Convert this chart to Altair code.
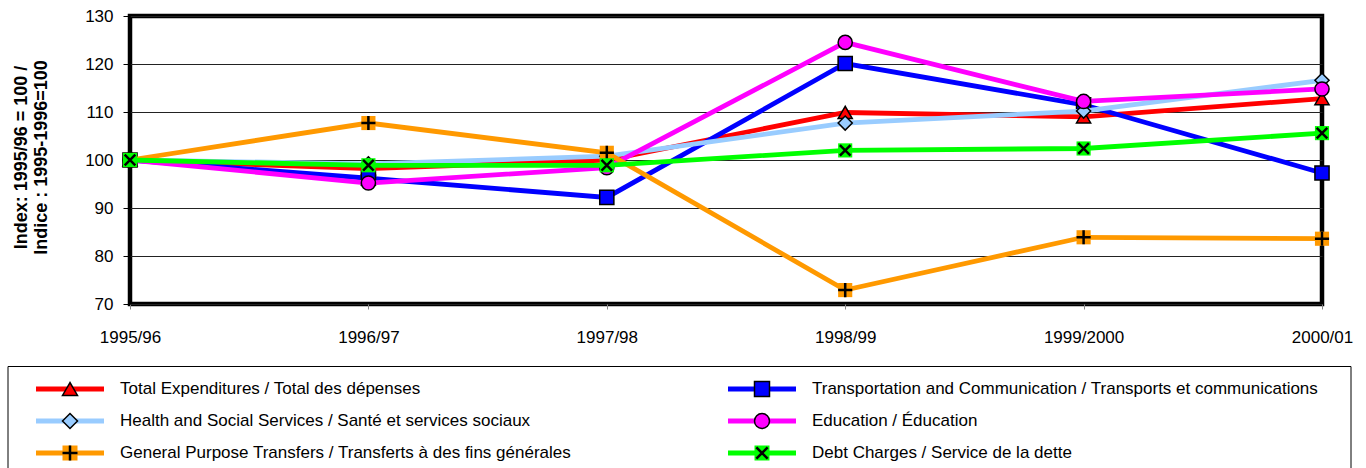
import altair as alt
import pandas as pd

# Fiscal years on the x axis
YEARS = ["1995/96", "1996/97", "1997/98", "1998/99", "1999/2000", "2000/01"]

# Series names (bilingual)
SERIES = [
    "Total Expenditures / Total des dépenses",
    "Transportation and Communication / Transports et communications",
    "Health and Social Services  / Santé et services sociaux",
    "Education / Éducation",
    "General Purpose Transfers / Transferts à des fins générales",
    "Debt Charges / Service de la dette",
]

# Index values, 1995/96 = 100
TOTAL = [100.0, 98.2, 100.0, 109.9, 109.0, 112.8]
TRANSPORT = [100.0, 96.2, 92.2, 120.1, 111.5, 97.3]
HEALTH = [100.0, 99.2, 100.8, 107.7, 110.2, 116.6]
EDUCATION = [100.0, 95.2, 98.4, 124.5, 112.2, 114.8]
TRANSFERS = [100.0, 107.7, 101.5, 72.9, 83.9, 83.6]
DEBT = [100.0, 98.9, 98.9, 102.0, 102.4, 105.6]

VALUES = [TOTAL, TRANSPORT, HEALTH, EDUCATION, TRANSFERS, DEBT]

COLORS = ["#FF0000", "#0000FF", "#99CCFF", "#FF00FF", "#FF9900", "#00FF00"]
PLUS = "M-1,0L1,0M0,-1L0,1"
CROSS = "M-0.75,-0.75L0.75,0.75M-0.75,0.75L0.75,-0.75"
SHAPES = ["triangle-up", "square", "diamond", "circle", PLUS, CROSS]
OPEN_MARKERS = {PLUS, CROSS}

FONT = "Liberation Sans, Arial, sans-serif"
W, H = 1192, 288

rows = []
for name, vals in zip(SERIES, VALUES):
    for yr, v in zip(YEARS, vals):
        rows.append({"series": name, "year": yr, "value": v})
df = pd.DataFrame(rows)

color_enc = alt.Color("series:N", scale=alt.Scale(domain=SERIES, range=COLORS), legend=None)
shape_enc = alt.Shape("series:N", scale=alt.Scale(domain=SERIES, range=SHAPES), legend=None)

x_enc = alt.X(
    "year:O",
    scale=alt.Scale(domain=YEARS, padding=0),
    axis=alt.Axis(
        title=None, labelAngle=0, labelFontSize=17, labelFont=FONT, labelColor="black",
        labelPadding=20, tickSize=5, tickColor="#888888", domain=False, grid=False,
    ),
)
y_enc = alt.Y(
    "value:Q",
    scale=alt.Scale(domain=[70, 130], nice=False, zero=False),
    axis=alt.Axis(
        title=["Index: 1995/96 = 100 /", "Indice : 1995-1996=100"],
        values=[70, 80, 90, 100, 110, 120, 130],
        labelFontSize=17, labelFont=FONT, labelColor="black", labelPadding=10,
        tickSize=7, tickColor="black", domain=False,
        grid=True, gridColor="#222222", gridWidth=1,
        titleFont=FONT, titleFontSize=18, titleFontWeight="bold", titleColor="black",
        titleAngle=270, titleX=-109, titleY=141, titleAlign="center",
        titleBaseline="middle", titleLineHeight=20,
    ),
)

main_layers = []
for name, shp in zip(SERIES, SHAPES):
    base = alt.Chart(df).transform_filter(alt.FieldEqualPredicate(field="series", equal=name))
    main_layers.append(
        base.mark_line(strokeWidth=4.8).encode(x=x_enc, y=y_enc, color=color_enc)
    )
    if shp in OPEN_MARKERS:
        main_layers.append(
            base.mark_point(shape="square", filled=True, opacity=1, size=200).encode(
                x=x_enc, y=y_enc, color=color_enc
            )
        )
        main_layers.append(
            base.mark_point(filled=False, opacity=1, size=200, strokeWidth=2.5, color="black").encode(
                x=x_enc, y=y_enc, shape=shape_enc
            )
        )
    else:
        main_layers.append(
            base.mark_point(filled=True, opacity=1, size=200, stroke="black", strokeWidth=1.5).encode(
                x=x_enc, y=y_enc, color=color_enc, shape=shape_enc
            )
        )

main = alt.layer(*main_layers)

# Legend: two columns, three rows, each entry a line segment with its marker
leg = pd.DataFrame({
    "series": SERIES,
    "col": [i % 2 for i in range(len(SERIES))],
    "row": [i // 2 for i in range(len(SERIES))],
    "open": [s in OPEN_MARKERS for s in SHAPES],
})
lx = alt.X("col:Q", scale=alt.Scale(domain=[0, 1], range=[-60, 632], nice=False, zero=False), axis=None)
ly = alt.Y("row:Q", scale=alt.Scale(domain=[0, 2], range=[373, 437], nice=False, zero=False), axis=None)

frame = alt.Chart(pd.DataFrame({"k": [0]})).mark_rect(
    fill="white", stroke="black", strokeWidth=1
).encode(
    x=alt.value(-122), x2=alt.value(1221), y=alt.value(350.5), y2=alt.value(480)
)
leg_base = alt.Chart(leg)
leg_line = leg_base.mark_point(
    shape="M-1,0L1,0", size=68 * 68, filled=False, strokeWidth=5, opacity=1, strokeCap="butt"
).encode(x=lx, y=ly, color=color_enc)
leg_bg = leg_base.transform_filter("datum.open").mark_point(
    shape="square", filled=True, opacity=1, size=225
).encode(x=lx, y=ly, color=color_enc)
leg_open = leg_base.transform_filter("datum.open").mark_point(
    filled=False, opacity=1, size=225, strokeWidth=2.5, color="black"
).encode(x=lx, y=ly, shape=shape_enc)
leg_closed = leg_base.transform_filter("!datum.open").mark_point(
    filled=True, opacity=1, size=225, stroke="black", strokeWidth=1.5
).encode(x=lx, y=ly, color=color_enc, shape=shape_enc)
leg_text = leg_base.mark_text(
    align="left", baseline="middle", dx=50, fontSize=17, font=FONT, color="black"
).encode(x=lx, y=ly, text="series:N")

legend = alt.layer(frame, leg_line, leg_bg, leg_open, leg_closed, leg_text)

chart = alt.layer(main, legend).resolve_scale(
    x="independent", y="independent"
).properties(
    width=W, height=H,
    autosize=alt.AutoSizeParams(type="none"),
    padding={"left": 130, "top": 16, "right": 1366 - 130 - W, "bottom": 468 - 16 - H},
    background="white",
).configure_view(
    stroke="black", strokeWidth=4.5
)

chart.save("out.html", embed_options={"renderer": "svg", "actions": False})
